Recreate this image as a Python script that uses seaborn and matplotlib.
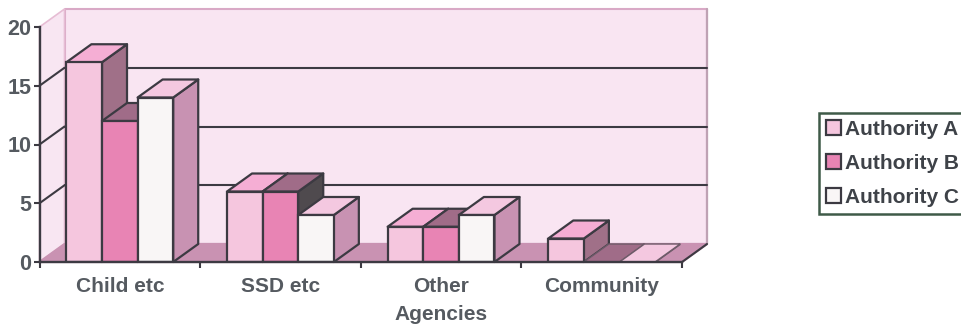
import matplotlib
matplotlib.use("Agg")
import matplotlib.pyplot as plt
from matplotlib.patches import Polygon
import pandas as pd
import seaborn as sns

categories = ["Child etc", "SSD etc", "Other\nAgencies", "Community"]
authority_a = [17, 6, 3, 2]
authority_b = [12, 6, 3, 0]
authority_c = [14, 4, 4, 0]
series_names = ["Authority A", "Authority B", "Authority C"]
y_ticks = [0, 5, 10, 15, 20]

front_colours = ["#f5c6de", "#e884b4", "#f9f6f6"]
top_colours = ["#f5aed4", "#a06c88", "#f4c8e0"]
side_colours = ["#a07088", "#4f4a4e", "#c892b2"]
edge = "#3c3a42"
text_colour = "#555a60"

sns.set_theme(style="white")
plt.rcParams["font.family"] = ["Liberation Sans", "DejaVu Sans"]
plt.rcParams["font.weight"] = "bold"

W, H = 961, 327
fig = plt.figure(figsize=(W / 100, H / 100), dpi=100, facecolor="white")
left, right, top, bottom = 39.5, 682, 27, 262
ax = fig.add_axes([left / W, 1 - bottom / H, (right - left) / W, (bottom - top) / H])
ax.set_facecolor("none")

df = pd.DataFrame({
    "category": categories * 3,
    "series": [s for s in series_names for _ in categories],
    "value": authority_a + authority_b + authority_c,
})
sns.barplot(
    data=df, x="category", y="value", hue="series", order=categories,
    hue_order=series_names, palette=front_colours, saturation=1, width=0.665,
    gap=0, edgecolor=edge, linewidth=1.6, ax=ax,
)

x0, x1, y0, y1 = -0.5, 3.5, 0, 20
ax.set_xlim(x0, x1)
ax.set_ylim(y0, y1)

# Oblique depth of the box, expressed in data units
dx = 25 / ((right - left) / (x1 - x0))
dy = 18 / ((bottom - top) / (y1 - y0))


def face(points, colour, z, line=None, lw=1.6):
    ax.add_patch(Polygon(points, closed=True, facecolor=colour,
                         edgecolor=line if line else colour, linewidth=lw,
                         clip_on=False, zorder=z, joinstyle="round"))


# Walls and floor
face([(x0 + dx, dy), (x1 + dx, dy), (x1 + dx, y1 + dy), (x0 + dx, y1 + dy)],
     "#f9e5f2", 0.2, "#d9a9c6", 1.5)
face([(x0, 0), (x0 + dx, dy), (x0 + dx, y1 + dy), (x0, y1)], "#f8e6f2", 0.3, "#e6bdd4", 1.2)
face([(x0, 0), (x1, 0), (x1 + dx, dy), (x0 + dx, dy)], "#c992b2", 0.4)
ax.plot([x1 + dx, x1 + dx], [dy, y1 + dy], color="#bfa2b4", lw=1.6, clip_on=False, zorder=0.5)
ax.plot([x1, x1 + dx], [0, dy], color=edge, lw=1.5, clip_on=False, zorder=0.6)

# Gridlines run along the back wall and down the left wall
for v in y_ticks[1:-1]:
    ax.plot([x0 + dx, x1 + dx], [v + dy, v + dy], color=edge, lw=1.5, clip_on=False, zorder=0.7)
    ax.plot([x0, x0 + dx], [v, v + dy], color=edge, lw=1.5, clip_on=False, zorder=0.7)

# Each bar gets a top and a side built from its front rectangle
order = 0
for s, container in enumerate(ax.containers):
    for bar in container:
        bx0, by0 = bar.get_x(), bar.get_y()
        bx1, by1 = bx0 + bar.get_width(), by0 + bar.get_height()
        z = 2 + order * 0.1
        flat = by1 == by0
        line = "#6d5a68" if flat else edge
        face([(bx1, by0), (bx1 + dx, by0 + dy), (bx1 + dx, by1 + dy), (bx1, by1)], side_colours[s], z, line)
        face([(bx0, by1), (bx1, by1), (bx1 + dx, by1 + dy), (bx0 + dx, by1 + dy)], top_colours[s], z + 0.01, line, 1.0 if flat else 1.6)
        bar.set_zorder(z + 0.02)
        if flat:
            bar.set_visible(False)
        order += 1

ax.set_xlabel("")
ax.set_ylabel("")
ax.set_yticks(y_ticks)
ax.set_xticks(range(len(categories)))
ax.set_xticklabels(categories)
ax.set_xticks([x0 + i for i in range(len(categories) + 1)], minor=True)
ax.tick_params(axis="x", which="major", length=0, pad=11, labelsize=15, labelcolor=text_colour)
ax.tick_params(axis="x", which="minor", length=4, width=1.5, color=edge, bottom=True)
ax.tick_params(axis="y", length=4, width=1.5, color=edge, left=True, pad=2, labelsize=15.5, labelcolor=text_colour)
for tick in ax.get_xticklabels():
    tick.set_linespacing(1.55)
sns.despine(ax=ax, top=True, right=True)
for name in ("left", "bottom"):
    ax.spines[name].set_color(edge)
    ax.spines[name].set_linewidth(1.7)
    ax.spines[name].set_zorder(10)

handles, labels = ax.get_legend_handles_labels()
legend = ax.legend(
    handles, labels, loc="upper left", bbox_to_anchor=(819 / W, 1 - 113 / H),
    bbox_transform=fig.transFigure, borderaxespad=0, frameon=True, fancybox=False,
    fontsize=15, handlelength=0.72, handleheight=0.72, handletextpad=0.2,
    labelspacing=0.72, borderpad=0.33, labelcolor="#3e4248", framealpha=1,
)
legend.get_frame().set_edgecolor("#3f5a48")
legend.get_frame().set_linewidth(1.8)

fig.savefig("out.png", dpi=100, facecolor="white")
